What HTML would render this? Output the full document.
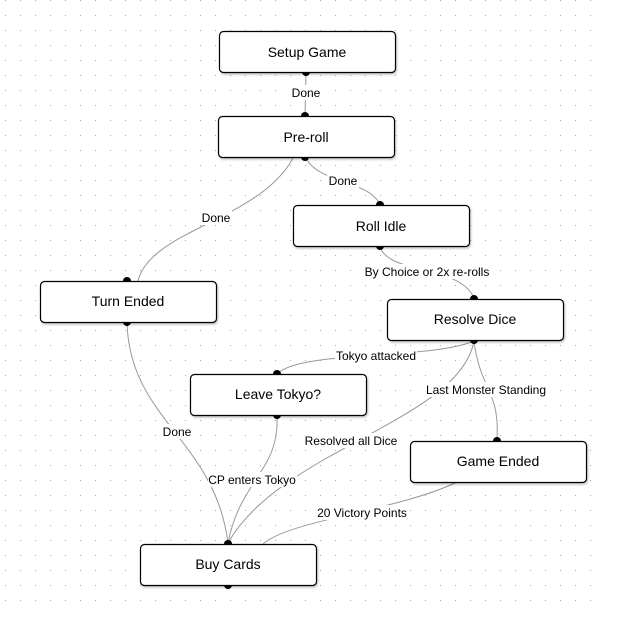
<!DOCTYPE html>
<html><head><meta charset="utf-8"><style>
html,body{margin:0;padding:0;background:#fff;}
svg{display:block;font-family:"Liberation Sans",Arial,sans-serif;}
.b{fill:#fff;stroke:#000;stroke-width:1.2;}
.t{font-size:14px;text-anchor:middle;fill:#000;}
.l{font-size:12px;text-anchor:middle;fill:#000;}
.e{fill:none;stroke:#999;stroke-width:1;}
.lb{fill:#fff;}
</style></head><body>
<svg width="617" height="623" viewBox="0 0 617 623">
<defs>
<pattern id="g" x="5" y="0" width="15" height="15" patternUnits="userSpaceOnUse">
<circle cx="0.5" cy="0.5" r="0.6" fill="#aaa"/>
</pattern>
<filter id="s" x="-10%" y="-10%" width="130%" height="140%"><feDropShadow dx="1" dy="1.5" stdDeviation="1" flood-color="#000" flood-opacity="0.25"/></filter>
</defs>
<rect x="0" y="0" width="605" height="605" fill="url(#g)"/>
<!-- edges -->
<path class="e" d="M306 72 L305 116"/>
<path class="e" d="M305 157 C320 185 370 180 380 205"/>
<path class="e" d="M293 158 C260 220 150 230 138 281"/>
<path class="e" d="M380 247 C390 275 460 265 474 298"/>
<path class="e" d="M474 341 C430 360 300 350 277 374"/>
<path class="e" d="M474 341 C480 390 500 390 497 440"/>
<path class="e" d="M474 341 C460 420 280 450 228 543"/>
<path class="e" d="M277 416 C280 470 240 480 228 543"/>
<path class="e" d="M127 323 C130 420 215 440 228 543"/>
<path class="e" d="M457 482 C400 510 290 520 263 544"/>
<!-- labels -->
<rect class="lb" x="290" y="85" width="32" height="15"/><text class="l" x="306" y="97">Done</text>
<rect class="lb" x="327" y="173" width="32" height="15"/><text class="l" x="343" y="185">Done</text>
<rect class="lb" x="200" y="210" width="32" height="15"/><text class="l" x="216" y="222">Done</text>
<rect class="lb" x="363" y="264" width="128" height="15"/><text class="l" x="427" y="276">By Choice or 2x re-rolls</text>
<rect class="lb" x="335" y="348" width="82" height="15"/><text class="l" x="376" y="360">Tokyo attacked</text>
<rect class="lb" x="425" y="382" width="123" height="15"/><text class="l" x="486" y="394">Last Monster Standing</text>
<rect class="lb" x="304" y="433" width="95" height="15"/><text class="l" x="351" y="445">Resolved all Dice</text>
<rect class="lb" x="208" y="472" width="89" height="15"/><text class="l" x="252" y="484">CP enters Tokyo</text>
<rect class="lb" x="162" y="424" width="32" height="15"/><text class="l" x="177" y="436">Done</text>
<rect class="lb" x="316" y="505" width="92" height="15"/><text class="l" x="362" y="517">20 Victory Points</text>
<!-- dots (under boxes) -->
<g fill="#000">
<circle cx="306" cy="72" r="4"/>
<circle cx="305" cy="116" r="4"/>
<circle cx="305" cy="157" r="4"/>
<circle cx="380" cy="205" r="4"/>
<circle cx="127" cy="281" r="4"/>
<circle cx="380" cy="246" r="4"/>
<circle cx="474" cy="299" r="4"/>
<circle cx="474" cy="340" r="4"/>
<circle cx="277" cy="374" r="4"/>
<circle cx="497" cy="441" r="4"/>
<circle cx="277" cy="415" r="4"/>
<circle cx="127" cy="322" r="4"/>
<circle cx="228" cy="544" r="4"/>
<circle cx="228" cy="585" r="4"/>
</g>
<!-- boxes -->
<g filter="url(#s)">
<rect class="b" x="219.5" y="31.5" width="176" height="41" rx="4"/>
<rect class="b" x="218.5" y="116.5" width="176" height="41" rx="4"/>
<rect class="b" x="293.5" y="205.5" width="176" height="41" rx="4"/>
<rect class="b" x="40.5" y="281.5" width="176" height="41" rx="4"/>
<rect class="b" x="387.5" y="299.5" width="176" height="41" rx="4"/>
<rect class="b" x="190.5" y="374.5" width="176" height="41" rx="4"/>
<rect class="b" x="410.5" y="441.5" width="176" height="41" rx="4"/>
<rect class="b" x="140.5" y="544.5" width="176" height="41" rx="4"/>
</g>
<text class="t" x="307" y="57">Setup Game</text>
<text class="t" x="306" y="142">Pre-roll</text>
<text class="t" x="381" y="231">Roll Idle</text>
<text class="t" x="128" y="306">Turn Ended</text>
<text class="t" x="475" y="324">Resolve Dice</text>
<text class="t" x="278" y="399">Leave Tokyo?</text>
<text class="t" x="498" y="466">Game Ended</text>
<text class="t" x="228" y="569">Buy Cards</text>
</svg>
</body></html>
